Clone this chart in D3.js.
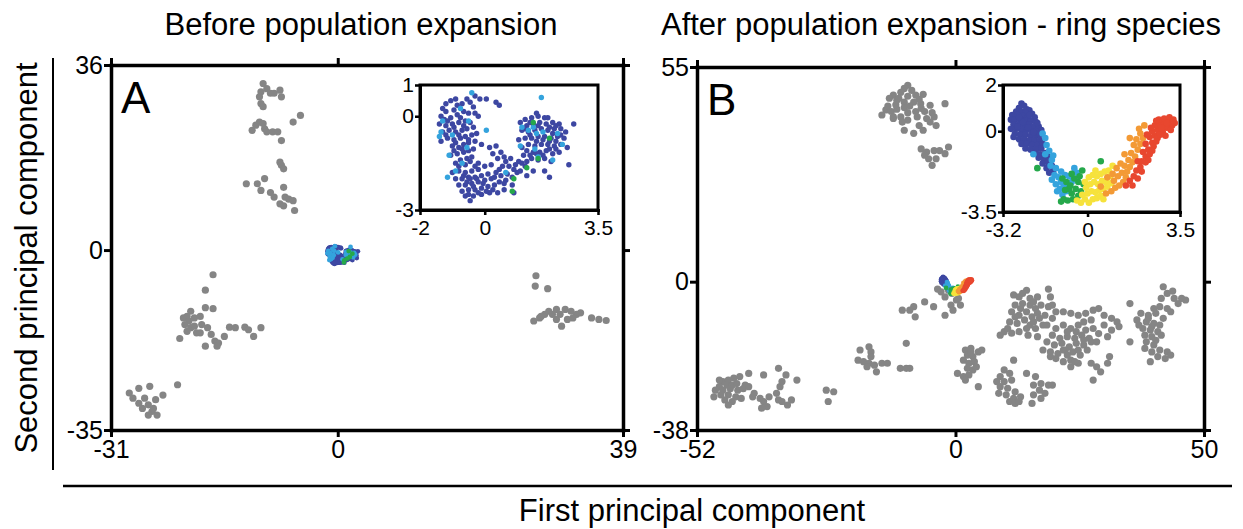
<!DOCTYPE html>
<html><head><meta charset="utf-8">
<script src="https://cdn.jsdelivr.net/npm/d3@7"></script>
<style>
body{margin:0;background:#fff}
svg{display:block}
text{font-family:"Liberation Sans",Arial,Helvetica,sans-serif;fill:#000}
</style>
</head><body>
<svg id="chart" width="1243" height="529"></svg>
<script>
// ---------- text ----------
const titleA = "Before population expansion";
const titleB = "After population expansion - ring species";
const xLabel = "First principal component";
const yLabel = "Second principal component";
const letterA = "A", letterB = "B";

// ---------- tick values ----------
const ticksAx = [-31, 0, 39];
const ticksAy = [-35, 0, 36];
const ticksBx = [-52, 0, 50];
const ticksBy = [-38, 0, 55];
const ticksAinsetX = [-2, 0, 3.5];
const ticksAinsetY = [-3, 0, 1];
const ticksBinsetX = [-3.2, 0, 3.5];
const ticksBinsetY = [-3.5, 0, 2];

// ---------- panel A : other populations (gray) ----------
const grayA = [
[-10.2,32.4],[-9.7,31.4],[-10.5,30.8],[-9.2,30.5],[-8.7,30.5],[-7.9,31.1],[-10.7,29.8],[-7.7,29.8],[-10.5,28.5],[-10.2,27.9],
[-5.1,26.2],[-6.1,24.9],[-11.7,23.3],[-11.2,24.3],[-10.7,24.9],[-10.2,24.6],[-10.0,23.6],[-9.7,23.0],[-8.9,23.0],[-8.2,23.0],
[-7.7,21.3],[-7.9,17.1],[-7.7,16.5],[-7.4,15.8],[-12.5,12.9],[-11.0,12.9],[-10.0,13.9],[-10.5,11.6],[-9.2,11.2],[-8.7,10.3],
[-7.4,12.2],[-7.2,10.3],[-6.7,9.9],[-7.9,9.0],[-7.4,8.6],[-6.1,9.6],[-5.9,7.7],
[-17.05,-4.8],[-18.1,-7.8],[-18.1,-11.2],[-17.05,-11.4],[-20.1,-11.9],[-20.6,-12.9],[-21.1,-13.2],[-20.35,-13.8],[-19.6,-13.2],[-18.8,-12.9],
[-20.9,-14.5],[-20.1,-15.1],[-20.6,-15.8],[-19.3,-16.1],[-18.6,-14.5],[-17.8,-15.1],[-17.3,-16.4],[-16.8,-17.7],[-16.3,-18.1],[-16.5,-18.7],
[-18.1,-18.7],[-15.5,-16.8],[-14.8,-15.0],[-14.0,-15.1],[-12.7,-15.0],[-12.2,-15.5],[-11.5,-16.8],[-10.5,-15.1],[-21.6,-17.2],[-19.6,-14.8],[-18.8,-16.1],
[-21.9,-26.2],[-25.7,-26.5],[-27.2,-26.9],[-28.5,-27.8],[-28.0,-28.8],[-26.4,-28.8],[-24.9,-29.1],[-23.9,-28.2],[-27.2,-29.8],[-25.9,-30.1],
[-26.7,-30.8],[-25.4,-31.4],[-25.9,-32.1],[-24.7,-32.1],[-25.2,-30.8],
[27.1,-5.0],[27.0,-7.0],[28.7,-7.5],[26.8,-13.8],[27.6,-13.2],[28.3,-12.5],[28.85,-11.9],[29.9,-11.55],[30.4,-12.5],[31.1,-11.55],
[31.9,-11.9],[32.65,-12.5],[33.2,-12.2],[30.6,-14.8],[29.9,-13.5],[31.4,-13.5],[32.15,-13.2],[34.7,-13.2],[35.7,-13.5],[36.7,-13.7],[27.8,-12.9],[29.35,-12.5]
];

// ---------- panel A inset : the focal population ----------
const insetA_dark = [
[-1.05,0.5],[-0.85,0.35],[-0.7,0.4],[-0.55,0.55],[-0.45,0.45],[-0.35,0.3],[-0.95,0.2],[-1.2,0.15],[-1.35,0.0],[-1.25,-0.1],
[-1.05,-0.05],[-0.85,0.05],[-0.65,0.15],[-0.5,0.1],[-0.3,0.1],[-1.4,-0.25],[-1.2,-0.3],[-1.0,-0.25],[-0.8,-0.2],[-0.6,-0.15],
[-0.45,-0.2],[-1.3,-0.5],[-1.1,-0.45],[-0.9,-0.5],[-0.7,-0.45],[-0.55,-0.4],[-0.35,-0.35],[-1.15,-0.7],[-0.95,-0.75],[-0.75,-0.7],
[-0.6,-0.65],[-0.4,-0.6],[-1.0,-0.95],[-0.8,-1.0],[-0.65,-0.9],[-0.5,-0.85],[-0.3,-0.8],[-0.85,-1.2],[-0.65,-1.15],[-0.5,-1.1],
[-0.35,-1.05],[-1.05,-1.25],[-0.75,-1.4],[-0.55,-1.35],[-0.4,-1.3],[-0.9,-1.5],[-0.6,-1.55],[-0.25,-0.55],[-0.15,0.55],[-0.3,0.65],
[-0.1,-0.9],[-1.35,-0.8],[-0.2,0.0],[0.05,0.55],[0.35,0.45],[0.45,0.35],
[-1.0,-1.8],[-0.8,-1.75],[-0.6,-1.8],[-0.4,-1.75],[-0.2,-1.7],[-0.9,-2.0],[-0.7,-2.0],[-0.5,-1.95],[-0.3,-1.95],[-0.1,-1.9],
[0.1,-1.85],[-0.8,-2.2],[-0.6,-2.2],[-0.4,-2.15],[-0.2,-2.1],[0.0,-2.05],[0.2,-2.0],[-0.7,-2.4],[-0.5,-2.35],[-0.3,-2.35],
[-0.1,-2.3],[0.1,-2.25],[0.3,-2.2],[-0.6,-2.55],[-0.35,-2.55],[-0.1,-2.5],[0.15,-2.45],[-0.2,-1.5],[0.0,-1.6],[0.2,-1.55],
[0.35,-1.8],[0.5,-1.9],[0.7,-1.85],[0.45,-2.1],[0.65,-2.05],[0.85,-1.95],[1.0,-1.8],[0.55,-1.6],[0.75,-1.6],[0.95,-1.55],
[1.15,-1.5],[1.3,-1.45],[0.4,-1.35],[0.6,-1.3],[0.8,-1.35],[0.25,-1.2],[0.15,-1.0],[0.35,-0.95],[0.5,-1.15],[1.1,-1.75],
[1.3,-1.9],[0.85,-2.2],[0.9,-2.45],[0.6,-2.35],[0.4,-2.45],[-0.45,-2.7],[1.5,-1.75],[1.85,-1.75],[2.0,-1.95],
[1.1,-0.2],[1.25,-0.1],[1.45,-0.05],[1.65,0.0],[1.85,-0.05],[1.3,-0.3],[1.5,-0.25],[1.7,-0.2],[1.9,-0.25],[2.1,-0.2],
[2.3,-0.25],[1.15,-0.45],[1.35,-0.5],[1.55,-0.45],[1.75,-0.4],[1.95,-0.45],[2.15,-0.4],[2.35,-0.4],[2.5,-0.5],[1.25,-0.7],
[1.45,-0.7],[1.65,-0.65],[1.85,-0.65],[2.05,-0.7],[2.25,-0.65],[2.45,-0.7],[1.35,-0.9],[1.55,-0.95],[1.75,-0.9],[1.95,-0.9],
[2.15,-0.95],[2.35,-0.9],[1.3,-1.1],[1.5,-1.15],[1.7,-1.15],[1.9,-1.1],[2.1,-1.2],[2.3,-1.15],[1.45,-1.35],[1.65,-1.4],
[1.85,-1.35],[2.05,-1.45],[1.2,-1.25],[2.55,-1.0],[2.75,-0.25],[1.6,0.1],[1.95,-0.05],[2.6,-1.55],[1.05,-0.75],[1.15,-1.0],
[-1.2,0.4],[-0.9,0.55],[-1.3,0.25],[-1.15,-0.15],[-0.75,-0.05],[-0.95,-0.35],[-0.65,-0.3],[-1.2,-0.6],[-0.8,-0.6],[-0.5,-0.75],
[-0.9,-0.85],[-0.7,-1.05],[-0.95,-1.1],[-0.45,-1.45],[-0.8,-1.6],[-0.3,-1.6],[-0.65,-1.9],[-0.45,-2.0],[-0.25,-2.0],[-0.55,-2.1],
[-0.35,-2.25],[-0.05,-2.15],[0.05,-2.4],[-0.2,-2.45],[0.25,-2.35],[-0.5,-2.5],[0.3,-1.95],[0.6,-2.15],[0.45,-1.7],[0.65,-1.45],
[0.9,-1.7],[1.05,-1.45],[1.25,-1.6],[1.4,-1.25],[1.6,-1.2],[1.8,-1.25],[2.0,-1.05],[2.2,-1.05],[1.6,-0.8],[1.8,-0.75],
[2.0,-0.8],[2.2,-0.8],[1.4,-0.6],[2.1,-0.55],[2.35,-0.6],[1.25,-0.4],[1.65,-0.3],[2.0,-0.35],[1.4,-0.2],[2.2,-0.3]
];
const insetA_light = [
[-0.4,0.75],[-1.3,-0.15],[-1.35,-0.5],[-0.75,0.25],[-0.5,-0.15],[-1.0,-0.6],[-1.1,-1.25],[-0.7,-1.5],[-0.9,-1.75],[-1.15,-1.95],
[-0.55,-1.0],[0.05,-0.45],[1.75,0.6],[1.15,-0.35],[1.35,-0.45],[1.6,-0.55],[1.8,-0.5],[2.25,-0.55],[2.4,-0.9],[1.55,-1.05],
[1.65,-1.3],[2.1,-1.4],[1.1,-0.95],[0.65,-1.8],[1.5,-0.35],[-1.4,-0.65]
];
const insetA_green = [[1.5,-0.2],[2.0,-0.7],[1.65,-1.35],[0.9,-2.0],[0.85,-2.4],[1.3,-1.65]];

// ---------- panel B : other populations (gray) ----------
const grayB = [
[-9.6,50.3],[-10.3,49.5],[-8.8,49],[-11,48.5],[-12.5,47.8],[-9.6,47.5],[-8,47.8],[-6.5,48],[-13.3,47],[-11.8,46.5],
[-10.3,46],[-8.4,46],[-7,45.6],[-5.1,45.2],[-14,44],[-12.9,43.6],[-11.8,44.2],[-10.3,44.6],[-9.6,43.3],[-8,43.6],
[-6.2,43.6],[-4.7,43.3],[-14.8,42.7],[-12.5,41.8],[-11,42.2],[-9.6,41.4],[-7.7,42.2],[-5.8,41.8],[-4.3,42.2],[-2.1,45.6],
[-10.3,38.8],[-8.4,38],[-6.5,38.8],[-5.1,40.9],[-3.9,40],[-7.3,40],[-12.5,42.2],[-10.7,40.9],[-13.6,45],[-9.2,45],
[-7.3,46.8],[-11.4,47],[-6.9,44.4],[-12,45.3],
[-6.9,34],[-5.8,33.2],[-4.3,33.6],[-2.1,32.8],[-1.4,34.5],[-5.4,31.5],[-3.9,31.5],[-4.7,29.8],[-6.2,32.4],[-3.2,33.6],
[-3.6,-1.9],[-2.9,-2.6],[-1.4,-2.2],[-0.7,-3.0],[-2.1,-3.9],[0.2,-4.7],[1.0,-6.0],[-0.9,-6.0],[-0.5,-7.3],[-2.1,-8.6],
[-4.4,-6.4],[-6.2,-5.2],[-8.4,-6.4],[-9.2,-7.3],[-10.7,-7.3],[-8.1,-9.0],[0.6,-4.3],
[14.3,-2.2],[18.7,-1.9],[11.7,-3.4],[12.8,-3.9],[15.0,-4.3],[16.5,-3.9],[19.1,-3.9],[12.0,-6.0],[13.5,-5.6],[15.0,-6.0],
[16.1,-6.9],[17.2,-6.0],[18.7,-6.4],[11.3,-7.7],[12.8,-8.6],[14.3,-7.7],[15.4,-9.0],[16.5,-8.1],[18.0,-8.6],[19.5,-9.4],
[10.9,-10.3],[12.4,-10.7],[13.9,-9.8],[15.0,-11.1],[16.1,-12.0],[17.6,-11.1],[9.8,-12.8],[9.0,-13.7],[11.3,-13.2],[12.8,-12.8],
[14.6,-13.7],[16.5,-14.1],[18.4,-11.1],[10.5,-12.0],[13.1,-6.9],[15.7,-5.2],[13.5,-3.0],[16.9,-9.4],[12.0,-9.0],[14.3,-12.0],
[15.7,-10.3],[20.2,-7.7],[19.5,-6.0],
[21.7,-7.7],[23.2,-8.1],[24.7,-8.6],[26.2,-8.1],[27.7,-7.3],[28.8,-6.9],[29.9,-8.6],[31.4,-9.4],[32.5,-10.3],[25.8,-10.3],
[27.3,-9.8],[29.9,-11.1],[31.4,-12.4],[32.9,-11.5],[20.2,-12.0],[21.7,-11.1],[23.2,-12.0],[24.7,-11.1],[26.2,-12.4],[27.7,-12.0],
[28.8,-13.3],[19.5,-13.7],[21.0,-14.5],[22.5,-14.1],[24.0,-14.5],[25.4,-13.7],[26.9,-14.5],[18.4,-15.4],[19.9,-16.2],[21.4,-15.8],
[22.9,-16.7],[24.3,-15.8],[25.8,-16.2],[27.3,-15.4],[17.6,-17.5],[19.1,-18.0],[20.6,-18.4],[22.1,-17.5],[23.6,-18.0],[25.1,-18.8],
[26.5,-17.5],[20.2,-19.7],[21.7,-20.5],[23.2,-20.1],[24.7,-20.9],[23.2,-21.8],[24.0,-20.5],[27.3,-20.9],[28.4,-21.8],[29.2,-23.1],
[27.7,-25.2],[31.0,-19.2],[30.6,-20.9],[24.3,-12.8],[22.5,-12.8],[25.8,-14.9],[21.7,-17.5],[24.7,-17.5],[28.4,-15.4],[30.6,-14.1],
[22.5,-18.8],[19.1,-19.2],
[41.8,-1.3],[43.7,-2.4],[42.6,-3.0],[41.4,-4.3],[44.0,-4.3],[45.5,-4.3],[46.3,-4.7],[44.8,-5.6],[35.1,-5.6],[39.9,-6.9],
[41.1,-6.4],[42.6,-6.9],[37.3,-8.1],[38.8,-8.6],[40.3,-8.1],[41.8,-9.4],[36.5,-9.8],[38.4,-10.3],[39.9,-10.7],[41.1,-11.1],
[37.7,-12.0],[39.2,-12.4],[40.7,-12.8],[38.1,-13.7],[39.5,-14.1],[40.3,-15.0],[38.4,-15.4],[35.1,-15.4],[39.9,-16.2],[38.1,-17.1],
[39.5,-18.0],[41.1,-17.5],[42.6,-18.0],[43.3,-18.8],[40.7,-19.2],[39.2,-20.5],[42.2,-19.7],[38.8,-9.4],[39.5,-11.5],[43.3,-7.7],
[36.9,-11.1],[41.4,-13.7],
[2.0,-17.5],[3.1,-17.1],[4.6,-18.0],[5.3,-17.5],[2.4,-18.8],[3.5,-19.2],[1.6,-20.1],[2.7,-20.9],[3.8,-20.5],[2.4,-22.2],
[3.5,-22.6],[0.4,-23.5],[1.6,-24.3],[2.7,-23.9],[4.2,-21.8],[4.6,-26.9],[2.0,-25.2],[3.1,-18.0],
[9.8,-22.6],[10.9,-23.5],[9.0,-24.3],[8.3,-25.6],[9.8,-25.6],[11.3,-25.2],[9.0,-26.9],[10.5,-27.3],[12.0,-28.2],[8.7,-28.6],
[10.2,-29.0],[11.7,-29.9],[13.1,-29.5],[10.9,-30.7],[12.0,-31.2],[12.8,-30.7],[14.3,-23.5],[16.1,-24.3],[15.7,-26.5],[17.2,-26.1],
[18.7,-26.5],[16.9,-27.8],[15.7,-29.0],[18.0,-28.6],[15.4,-31.2],[19.5,-26.5],[11.7,-20.1],[17.2,-29.9],
[-19.2,-17.5],[-17.4,-16.7],[-17.0,-18.0],[-19.6,-20.1],[-18.5,-20.5],[-17.4,-20.9],[-16.3,-21.4],[-14.8,-20.9],[-13.7,-20.9],[-15.9,-23.1],
[-17.8,-21.8],[-11.1,-22.2],[-9.9,-22.2],[-9.2,-22.2],[-9.9,-15.8],[-17.0,-19.2],
[-46.8,-25.6],[-45.7,-25.2],[-44.6,-24.7],[-43.4,-24.3],[-41.6,-23.5],[-47.5,-26.9],[-46.0,-26.5],[-44.9,-26.5],[-44.0,-26.1],[-42.3,-26.5],
[-48.3,-27.8],[-46.8,-27.8],[-45.3,-27.4],[-43.8,-27.8],[-42.7,-27.4],[-48.6,-29.5],[-47.2,-29.0],[-45.7,-29.0],[-44.2,-29.5],[-46.4,-30.3],
[-44.9,-30.7],[-45.7,-31.6],[-43.1,-29.9],[-40.8,-29.5],[-39.3,-29.9],[-38.6,-30.7],[-37.9,-32.0],[-39.0,-32.4],[-37.5,-29.5],[-36.0,-28.6],
[-35.3,-26.9],[-35.6,-30.3],[-34.9,-30.7],[-33.8,-31.6],[-33.0,-30.3],[-38.6,-23.9],[-35.6,-22.2],[-34.1,-23.9],[-31.9,-25.2],[-34.9,-25.6],
[-41.6,-26.9],[-47.5,-25.2],[-40.5,-28.6],
[-26.0,-27.8],[-24.5,-28.2],[-25.6,-30.7]
];

// ---------- panel B inset : the ring population, coloured by location ----------
const insetB_blue = [
[-2.5,1.2],[-2.4,1.1],[-2.6,1.0],[-2.3,0.95],[-2.2,0.9],[-2.7,0.85],[-2.5,0.85],[-2.35,0.8],[-2.1,0.75],[-2.85,0.7],
[-2.65,0.7],[-2.45,0.65],[-2.25,0.6],[-2.0,0.6],[-2.9,0.5],[-2.75,0.5],[-2.55,0.5],[-2.35,0.45],[-2.15,0.45],[-1.95,0.4],
[-2.8,0.3],[-2.6,0.3],[-2.4,0.25],[-2.2,0.3],[-2.05,0.2],[-1.85,0.2],[-2.9,0.1],[-2.7,0.1],[-2.5,0.05],[-2.3,0.05],
[-2.1,0.0],[-1.9,0.0],[-1.75,0.05],[-2.75,-0.1],[-2.55,-0.15],[-2.35,-0.15],[-2.15,-0.2],[-1.95,-0.2],[-1.8,-0.15],[-2.6,-0.35],
[-2.4,-0.35],[-2.2,-0.4],[-2.0,-0.4],[-1.8,-0.4],[-2.5,-0.55],[-2.3,-0.55],[-2.1,-0.6],[-1.9,-0.6],[-1.7,-0.55],[-2.35,-0.75],
[-2.15,-0.8],[-1.95,-0.8],[-1.75,-0.75],[-2.0,-0.95],[-1.8,-1.0],[-1.6,-0.95],[-1.85,-1.15],[-1.65,-1.2],[-1.5,-1.1],[-1.7,-1.4],
[-1.5,-1.35],[-1.35,-1.5],[-1.55,-1.6],[-1.3,-1.7],[-1.45,-1.8],[-2.65,0.2],[-2.45,0.4],[-2.25,0.15],[-2.05,-0.05],[-2.6,0.6],
[-2.8,-0.25],[-2.2,0.7],[-1.9,0.35]
];
const insetB_lightblue = [
[-1.7,-0.1],[-1.6,-0.3],[-1.55,-0.6],[-1.45,-0.85],[-1.6,-1.0],[-1.35,-1.25],[-1.4,-1.5],[-1.2,-1.6],[-1.25,-1.9],[-1.1,-2.0],
[-1.35,-2.1],[-1.2,-2.3],[-1.0,-2.2],[-1.05,-2.5],[-0.9,-2.4],[-1.15,-2.6],[-0.95,-2.75],[-0.8,-2.6],[-0.85,-1.9],[-1.0,-1.75],
[-0.7,-1.95],[-0.6,-2.2],[-0.75,-2.35],[-0.5,-1.6],[-0.4,-1.8],[-2.05,-1.0],[-1.3,-1.05]
];
const insetB_green = [
[-0.95,-2.05],[-0.8,-2.2],[-0.7,-2.5],[-0.85,-2.55],[-0.6,-2.7],[-0.9,-2.95],[-0.75,-3.0],[-0.55,-2.95],[-0.45,-2.5],[-0.35,-2.2],
[-0.3,-1.95],[-0.5,-2.05],[-0.2,-1.7],[-0.15,-2.3],[-0.65,-2.35],[-1.0,-3.05],[0.5,-1.3],[-0.35,-2.8],[-0.25,-2.6],[-0.6,-1.85],
[-1.9,-1.6]
];
const insetB_yellow = [
[-0.4,-3.0],[-0.25,-3.1],[-0.1,-2.95],[0.05,-3.1],[0.2,-2.95],[0.35,-2.9],[0.5,-2.8],[-0.2,-2.75],[0.0,-2.7],[0.15,-2.6],
[0.3,-2.65],[0.45,-2.55],[0.6,-2.5],[-0.05,-2.45],[0.1,-2.3],[0.25,-2.2],[0.4,-2.3],[0.55,-2.15],[0.7,-2.2],[0.05,-2.0],
[0.2,-1.9],[0.35,-1.95],[0.5,-1.85],[0.65,-1.75],[0.8,-1.7],[0.85,-1.95],[0.75,-2.4],[0.95,-1.5],[0.3,-1.7],[-0.1,-2.2],
[0.6,-2.95],[0.9,-2.25]
];
const insetB_orange = [
[0.7,-2.7],[0.9,-2.6],[1.05,-2.45],[1.2,-2.35],[1.35,-2.2],[1.0,-2.15],[1.15,-1.95],[1.3,-1.8],[1.5,-1.75],[1.45,-2.0],
[1.6,-1.55],[1.7,-1.35],[1.55,-1.25],[1.8,-1.1],[1.65,-0.95],[1.9,-0.8],[1.75,-0.6],[2.0,-0.55],[1.85,-0.35],[2.1,-0.3],
[2.0,-0.1],[1.95,0.1],[2.15,0.25],[1.1,-1.6],[1.25,-1.4],[1.4,-1.5],[0.95,-1.85],[0.5,-2.4],[0.75,-2.0],[1.6,-0.3],[1.4,-1.0]
];
const insetB_red = [
[1.45,-2.35],[1.6,-2.15],[1.75,-1.95],[1.85,-1.7],[2.0,-1.55],[2.05,-1.3],[1.9,-1.3],[2.2,-1.1],[2.1,-0.9],[2.3,-0.8],
[2.2,-0.55],[2.45,-0.5],[2.35,-0.25],[2.55,-0.2],[2.45,0.0],[2.65,0.05],[2.55,0.25],[2.75,0.3],[2.9,0.35],[3.05,0.4],
[2.7,0.5],[2.9,0.55],[3.1,0.6],[3.25,0.5],[3.2,0.25],[3.0,0.15],[2.85,-0.05],[2.65,-0.3],[2.5,-0.65],[2.35,-1.0],
[2.2,-1.35],[2.05,-1.75],[1.9,-2.05],[2.6,0.45],[3.15,0.05],[2.95,-0.2],[2.75,-0.15],[2.4,0.15],[2.25,-0.15],[2.6,-0.45],
[2.45,-0.85],[2.3,-1.25],[1.7,-2.35],[3.3,0.35],[2.8,0.15],[3.0,0.35]
];

// ---------- colours ----------
const GRAY = "#858585";
const C_DARK = "#3d47a2", C_LIGHT = "#34a3dd", C_GREEN = "#25a84b";
const C_YELLOW = "#f6e23c", C_ORANGE = "#f39a35", C_RED = "#e8472f";

const seriesA = [[insetA_dark, C_DARK], [insetA_light, C_LIGHT], [insetA_green, C_GREEN]];
const seriesB = [[insetB_blue, C_DARK], [insetB_lightblue, C_LIGHT], [insetB_green, C_GREEN],
                 [insetB_yellow, C_YELLOW], [insetB_orange, C_ORANGE], [insetB_red, C_RED]];

// ---------- drawing ----------
const svg = d3.select("#chart");
const fmt = d => String(d);

function styleAxis(g, w) {
  g.select(".domain").attr("stroke", "#000").attr("stroke-width", w).attr("stroke-linecap", "square");
  g.selectAll(".tick line").attr("stroke", "#000").attr("stroke-width", w * 0.85);
}

function dots(g, data, x, y, r, color) {
  g.append("g").selectAll("circle").data(data).join("circle")
    .attr("cx", d => x(d[0])).attr("cy", d => y(d[1])).attr("r", r).attr("fill", color);
}

function mainPanel(o) {
  const x = d3.scaleLinear().domain([o.xt[0], o.xt[2]]).range([o.x0, o.x1]);
  const y = d3.scaleLinear().domain([o.yt[0], o.yt[2]]).range([o.y1, o.y0]);
  const g = svg.append("g");
  dots(g, o.gray, x, y, o.rg, GRAY);
  o.series.forEach(s => dots(g, s[0], x, y, o.rs, s[1]));
  const fs = "25px";
  const b = g.append("g").attr("transform", `translate(0,${o.y1})`)
    .call(d3.axisBottom(x).tickValues(o.xt).tickSize(7).tickSizeOuter(0).tickPadding(3).tickFormat(fmt));
  b.selectAll("text").style("font-size", fs);
  styleAxis(b, 3.5);
  const l = g.append("g").attr("transform", `translate(${o.x0},0)`)
    .call(d3.axisLeft(y).tickValues(o.yt).tickSize(7).tickSizeOuter(0).tickPadding(1).tickFormat(fmt));
  l.selectAll("text").style("font-size", fs);
  styleAxis(l, 3.5);
  const t = g.append("g").attr("transform", `translate(0,${o.y0})`)
    .call(d3.axisTop(x).tickValues(o.xt).tickSize(7).tickSizeOuter(0).tickFormat(""));
  styleAxis(t, 3.5);
  const r = g.append("g").attr("transform", `translate(${o.x1},0)`)
    .call(d3.axisRight(y).tickValues(o.yt).tickSize(7).tickSizeOuter(0).tickFormat(""));
  styleAxis(r, 3.5);
  g.append("text").attr("x", o.x0 + 10).attr("y", o.y0 + 48).style("font-size", "44px").text(o.letter);
}

function insetPanel(o) {
  const x = d3.scaleLinear().domain([o.xt[0], o.xt[2]]).range([o.x0, o.x1]);
  const y = d3.scaleLinear().domain([o.yt[0], o.yt[2]]).range([o.y1, o.y0]);
  const g = svg.append("g");
  g.append("rect").attr("x", o.x0).attr("y", o.y0).attr("width", o.x1 - o.x0).attr("height", o.y1 - o.y0)
    .attr("fill", "#fff").attr("stroke", "#000").attr("stroke-width", 3);
  o.series.forEach(s => dots(g, s[0], x, y, o.r, s[1]));
  const fs = "21px";
  const b = g.append("g").attr("transform", `translate(0,${o.y1})`)
    .call(d3.axisBottom(x).tickValues(o.xt).tickSize(5).tickSizeOuter(0).tickPadding(5).tickFormat(fmt));
  b.selectAll("text").style("font-size", fs);
  styleAxis(b, 3);
  const l = g.append("g").attr("transform", `translate(${o.x0},0)`)
    .call(d3.axisLeft(y).tickValues(o.yt).tickSize(5).tickSizeOuter(0).tickPadding(1).tickFormat(fmt));
  l.selectAll("text").style("font-size", fs);
  styleAxis(l, 3);
}

mainPanel({x0: 111, x1: 623, y0: 65, y1: 430, xt: ticksAx, yt: ticksAy, gray: grayA, series: seriesA, rg: 3.6, rs: 2.4, letter: letterA});
insetPanel({x0: 420, x1: 598, y0: 85, y1: 210, xt: ticksAinsetX, yt: ticksAinsetY, series: seriesA, r: 2.7});
mainPanel({x0: 697, x1: 1204, y0: 67, y1: 430, xt: ticksBx, yt: ticksBy, gray: grayB, series: seriesB, rg: 3.6, rs: 2.4, letter: letterB});
insetPanel({x0: 1003, x1: 1180, y0: 85, y1: 212, xt: ticksBinsetX, yt: ticksBinsetY, series: seriesB, r: 3.3});

// titles & shared axis labels
svg.append("text").attr("x", 361).attr("y", 35).attr("text-anchor", "middle").style("font-size", "31px").text(titleA);
svg.append("text").attr("x", 941).attr("y", 35).attr("text-anchor", "middle").style("font-size", "31px").text(titleB);
svg.append("line").attr("x1", 53).attr("x2", 53).attr("y1", 58).attr("y2", 470).attr("stroke", "#000").attr("stroke-width", 2);
svg.append("line").attr("x1", 63).attr("x2", 1232).attr("y1", 486).attr("y2", 486).attr("stroke", "#000").attr("stroke-width", 2.5);
svg.append("text").attr("x", 692).attr("y", 521).attr("text-anchor", "middle").style("font-size", "31px").text(xLabel);
svg.append("text").attr("transform", "translate(37,258) rotate(-90)").attr("text-anchor", "middle").style("font-size", "31px").text(yLabel);
</script>
</body></html>
